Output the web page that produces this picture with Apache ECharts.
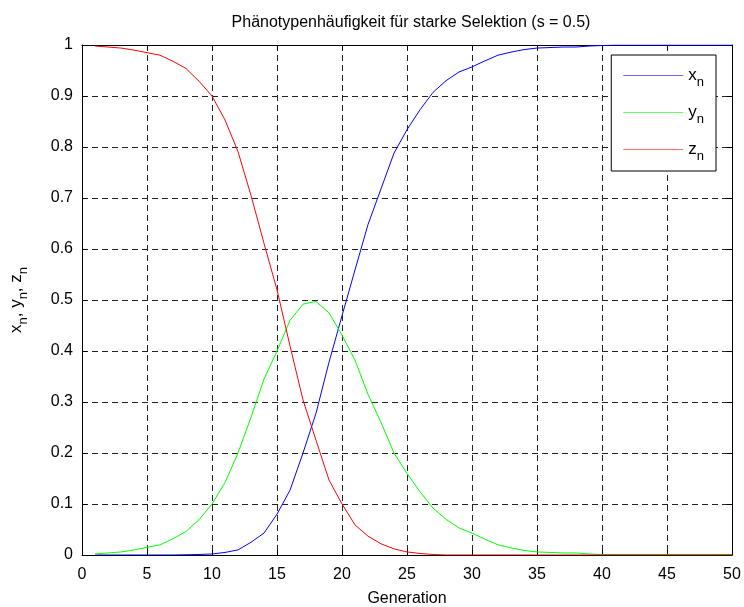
<!DOCTYPE html>
<html>
<head>
<meta charset="utf-8">
<script src="https://cdn.jsdelivr.net/npm/echarts@6/dist/echarts.min.js"></script>
<style>
  html, body { margin: 0; padding: 0; background: #fff; }
  #chart { width: 744px; height: 607px; }
</style>
</head>
<body>
<div id="chart"></div>
<script>
// generation 1..50
const generations = [];
for (let g = 1; g <= 50; g++) generations.push(g);

// x_n (blue)
const xValues = [
  0, 0, 0, 0, 0, 0, 0, 0.0005, 0.001, 0.002,
  0.005, 0.010, 0.025, 0.043, 0.080, 0.127, 0.200, 0.278, 0.378, 0.469,
  0.559, 0.648, 0.718, 0.788, 0.834, 0.873, 0.907, 0.930, 0.947, 0.957,
  0.969, 0.980, 0.986, 0.991, 0.994, 0.995, 0.996, 0.996, 0.998, 0.999,
  1, 1, 1, 1, 1, 1, 1, 1, 1, 1
];
// y_n (green)
const yValues = [
  0.002, 0.004, 0.006, 0.010, 0.015, 0.020, 0.032, 0.046, 0.069, 0.100,
  0.142, 0.200, 0.270, 0.345, 0.400, 0.460, 0.492, 0.497, 0.475, 0.431,
  0.382, 0.315, 0.260, 0.200, 0.160, 0.124, 0.092, 0.070, 0.053, 0.043,
  0.031, 0.020, 0.014, 0.009, 0.006, 0.005, 0.004, 0.004, 0.002, 0.001,
  0.001, 0.001, 0.001, 0.001, 0.001, 0.001, 0.001, 0.001, 0.001, 0.001
];
// z_n (red)
const zValues = [
  0.998, 0.996, 0.994, 0.990, 0.985, 0.980, 0.968, 0.954, 0.929, 0.900,
  0.853, 0.791, 0.705, 0.611, 0.520, 0.410, 0.304, 0.225, 0.147, 0.100,
  0.059, 0.037, 0.022, 0.012, 0.006, 0.003, 0.001, 0, 0, 0,
  0, 0, 0, 0, 0, 0, 0, 0, 0, 0,
  0, 0, 0, 0, 0, 0, 0, 0, 0, 0
];

const seriesNames = ['x', 'y', 'z'];
const seriesColors = ['#0000ff', '#00ff00', '#ff0000'];
const legendColors = ['#6a6aff', '#5cff5c', '#ff6a6a'];
const xTicks = { min: 0, max: 50, interval: 5 };
const yTicks = { min: 0, max: 1, interval: 0.1 };

const fontFamily = 'Liberation Sans, Arial, sans-serif';

function pairs(values) {
  return generations.map((g, i) => [g, values[i]]);
}

const chart = echarts.init(document.getElementById('chart'), null, { renderer: 'canvas' });

const gridLine = { show: true, lineStyle: { color: '#222', width: 1, type: [6, 4] } };
const boxLine = { show: true, onZero: false, lineStyle: { color: '#000', width: 1 } };
const tick = { show: true, inside: true, length: 5, lineStyle: { color: '#000' } };
const labelStyle = { color: '#000', fontSize: 16, fontFamily: fontFamily };

const option = {
  animation: false,
  backgroundColor: '#fff',
  title: {
    text: 'Phänotypenhäufigkeit für starke Selektion (s = 0.5)',
    left: 406,
    textAlign: 'center',
    top: 10,
    textStyle: { color: '#000', fontSize: 16, fontWeight: 'normal', fontFamily: fontFamily }
  },
  grid: { left: 82, right: 12, top: 45, bottom: 52, containLabel: false, outerBoundsMode: 'none' },
  legend: {
    orient: 'vertical',
    right: 28,
    top: 55,
    data: seriesNames.map((n, i) => ({
      name: n,
      icon: 'path://M0,0H60V1H0Z',
      itemStyle: { color: legendColors[i], borderWidth: 0, opacity: 1 }
    })),
    itemWidth: 60,
    itemHeight: 2,
    itemGap: 10,
    padding: [7, 12, 8, 12],
    backgroundColor: '#fff',
    borderColor: '#000',
    borderWidth: 1,
    formatter: name => '{m|' + name + '}{s|n}',
    textStyle: {
      color: '#000',
      fontFamily: fontFamily,
      rich: {
        m: { fontSize: 17, lineHeight: 10, color: '#000', fontFamily: fontFamily },
        s: { fontSize: 13, lineHeight: 10, padding: [14, 0, 0, 0], color: '#000', fontFamily: fontFamily }
      }
    }
  },
  xAxis: [
    {
      type: 'value',
      position: 'bottom',
      min: xTicks.min, max: xTicks.max, interval: xTicks.interval,
      name: 'Generation',
      nameLocation: 'middle',
      nameGap: 36,
      nameTextStyle: labelStyle,
      axisLine: boxLine,
      axisTick: tick,
      axisLabel: Object.assign({ margin: 12 }, labelStyle),
      splitLine: gridLine
    },
    {
      type: 'value',
      position: 'top',
      min: xTicks.min, max: xTicks.max, interval: xTicks.interval,
      axisLine: boxLine,
      axisTick: tick,
      axisLabel: { show: false },
      splitLine: { show: false }
    }
  ],
  yAxis: [
    {
      type: 'value',
      position: 'left',
      min: yTicks.min, max: yTicks.max, interval: yTicks.interval,
      name: '{m|x}{s|n}{m|, y}{s|n}{m|, z}{s|n}',
      nameLocation: 'middle',
      nameRotate: 90,
      nameGap: 52,
      nameTextStyle: {
        color: '#000',
        rich: {
          m: { fontSize: 17, lineHeight: 28, color: '#000', fontFamily: fontFamily },
          s: { fontSize: 13, verticalAlign: 'bottom', color: '#000', fontFamily: fontFamily }
        }
      },
      axisLine: boxLine,
      axisTick: tick,
      axisLabel: Object.assign({ margin: 9 }, labelStyle),
      splitLine: gridLine
    },
    {
      type: 'value',
      position: 'right',
      min: yTicks.min, max: yTicks.max, interval: yTicks.interval,
      axisLine: boxLine,
      axisTick: tick,
      axisLabel: { show: false },
      splitLine: { show: false }
    }
  ],
  series: [xValues, yValues, zValues].map((vals, i) => ({
    name: seriesNames[i],
    type: 'line',
    xAxisIndex: 0,
    yAxisIndex: 0,
    data: pairs(vals),
    symbol: 'none',
    itemStyle: { color: seriesColors[i] },
    lineStyle: { color: seriesColors[i], width: 1 },
    z: 3 + i
  }))
};

chart.setOption(option);
</script>
</body>
</html>
